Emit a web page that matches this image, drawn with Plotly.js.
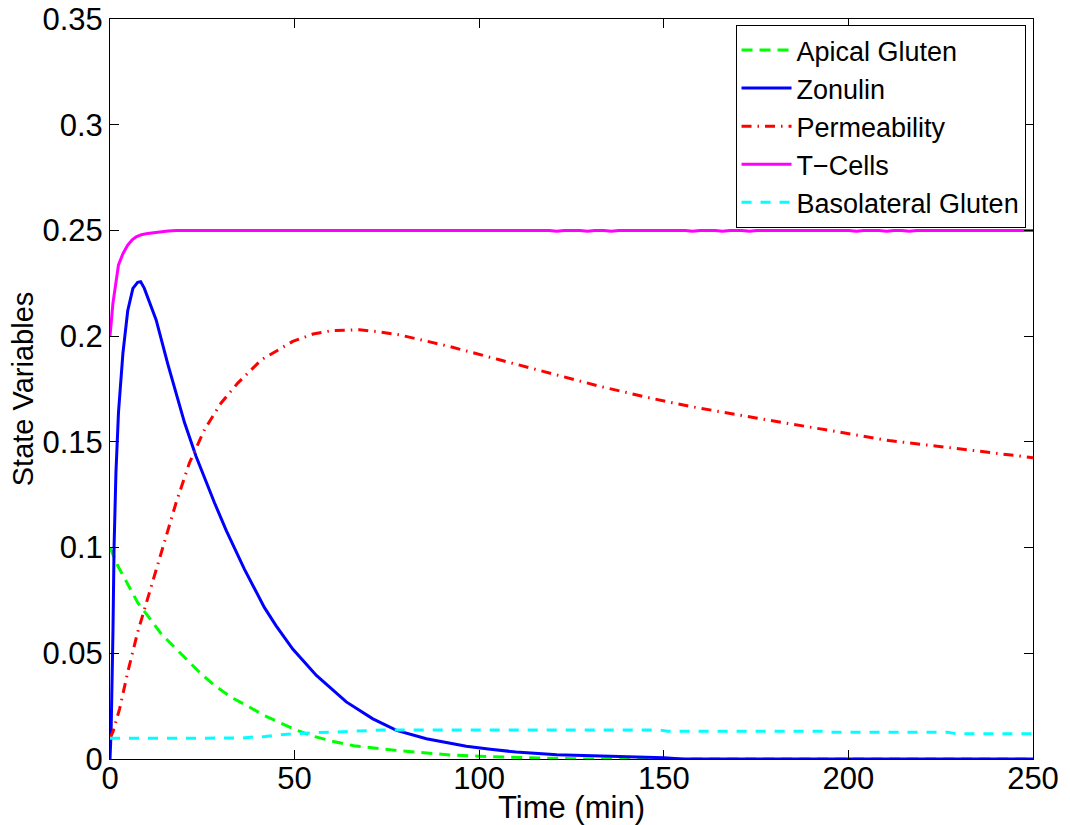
<!DOCTYPE html>
<html>
<head>
<meta charset="utf-8">
<script src="https://cdn.plot.ly/plotly-3.0.1.min.js"></script>
<style>html,body{margin:0;padding:0;background:#fff;}#chart{width:1070px;height:825px;}</style>
</head>
<body>
<div id="chart"></div>
<script>
// ---- data ----
const apicalT = [0, 2.1, 4.8, 7.5, 10.2, 13.9, 17.5, 21.1, 24.7, 28.3, 32.8, 37.3, 41.8, 45, 50, 55, 60, 66, 72, 78, 85, 92, 100, 110, 120, 130, 250];
const apicalY = [0.1, 0.0914, 0.0827, 0.074, 0.0678, 0.0591, 0.0528, 0.0466, 0.0402, 0.0348, 0.0292, 0.025, 0.0206, 0.018, 0.014, 0.0108, 0.0085, 0.0063, 0.005, 0.004, 0.003, 0.0019, 0.0013, 0.0007, 0.0003, 0, 0];

const zonulinT = [0, 0.3, 0.8, 1.1, 1.6, 2.3, 3.5, 4.8, 6.2, 7.5, 8.3, 9.3, 12.5, 15.7, 20.2, 23.3, 28.3, 31.5, 36.4, 41.8, 45, 49.5, 55.9, 64, 71.2, 77.6, 85.7, 96.5, 103, 110, 121, 128, 139, 150, 155, 250];
const zonulinY = [0, 0.013, 0.06, 0.1, 0.135, 0.164, 0.192, 0.212, 0.2226, 0.2255, 0.2258, 0.2226, 0.2077, 0.1865, 0.159, 0.1432, 0.1212, 0.108, 0.0898, 0.0717, 0.063, 0.052, 0.0395, 0.027, 0.019, 0.0135, 0.0096, 0.006, 0.0046, 0.0033, 0.002, 0.0017, 0.0012, 0.0006, 0, 0];

const permT = [0, 0.77, 2.6, 4.8, 7.5, 10.2, 12.9, 15, 17.9, 21.5, 25.6, 30.1, 34.6, 41, 49.5, 55, 60.3, 67.6, 72, 78.4, 92, 105.5, 119, 132.6, 146.1, 157, 175, 193, 211, 229.2, 250];
const permY = [0.01, 0.0127, 0.0237, 0.041, 0.06, 0.0756, 0.0914, 0.104, 0.1212, 0.14, 0.1558, 0.1684, 0.1778, 0.1888, 0.1975, 0.201, 0.2027, 0.203, 0.2022, 0.2006, 0.1951, 0.1888, 0.1825, 0.1763, 0.1708, 0.1668, 0.1613, 0.1558, 0.1506, 0.1469, 0.1425];

const tcellT = [0, 0.8, 2.3, 3.5, 4.8, 6, 7.1, 8.5, 10.2, 12.5, 15.7, 18, 119, 121, 123, 127.3, 129.3, 131.3, 133.8, 135.8, 137.8, 155.8, 157.8, 159.8, 163.9, 165.9, 167.9, 171.2, 173.2, 175.2, 200.2, 202.2, 204.2, 208.3, 210.3, 212.3, 214.5, 216.5, 218.5, 250];
const tcellY = [0.2, 0.2156, 0.2337, 0.239, 0.2431, 0.2455, 0.247, 0.248, 0.2486, 0.2492, 0.2497, 0.25, 0.25, 0.2496, 0.25, 0.25, 0.2496, 0.25, 0.25, 0.2496, 0.25, 0.25, 0.2496, 0.25, 0.25, 0.2496, 0.25, 0.25, 0.2496, 0.25, 0.25, 0.2496, 0.25, 0.25, 0.2496, 0.25, 0.25, 0.2496, 0.25, 0.25];

const basoT = [0, 36, 38, 42, 46, 50, 55, 60, 63, 67, 71, 74, 149, 151, 194, 196, 227, 229, 250];
const basoY = [0.0098, 0.0099, 0.0103, 0.0106, 0.0115, 0.012, 0.0124, 0.0127, 0.013, 0.0132, 0.0135, 0.0137, 0.0137, 0.0131, 0.0131, 0.0126, 0.0126, 0.012, 0.012];

const seriesNames = ['Apical Gluten', 'Zonulin', 'Permeability', 'T\u2212Cells', 'Basolateral Gluten'];
const seriesColors = ['#00ff00', '#0000ff', '#ff0000', '#ff00ff', '#00ffff'];

const xTicks = [0, 50, 100, 150, 200, 250];
const xTickText = ['0', '50', '100', '150', '200', '250'];
const yTicks = [0, 0.05, 0.1, 0.15, 0.2, 0.25, 0.3, 0.35];
const yTickText = ['0', '0.05', '0.1', '0.15', '0.2', '0.25', '0.3', '0.35'];

// ---- traces ----
const xs = [apicalT, zonulinT, permT, tcellT, basoT];
const ys = [apicalY, zonulinY, permY, tcellY, basoY];
const dashes = ['11px,7px', 'solid', '10px,6px,1.5px,6px', 'solid', '10px,9px'];

const traces = xs.map((x, i) => ({
  type: 'scatter', mode: 'lines', x: x, y: ys[i], name: seriesNames[i],
  line: {color: seriesColors[i], width: 3, dash: dashes[i], shape: 'linear'},
  cliponaxis: false,
  hoverinfo: 'skip'
}));

const baseFam = 'Liberation Sans, Arial, Helvetica, sans-serif';

const layout = {
  width: 1070, height: 825,
  margin: {l: 110, r: 37, t: 19, b: 66, pad: 0},
  paper_bgcolor: '#fff', plot_bgcolor: '#fff',
  showlegend: true,
  legend: {
    x: 0.9919, y: 0.992, xanchor: 'right', yanchor: 'top',
    bgcolor: '#fff', bordercolor: '#000', borderwidth: 1,
    font: {family: baseFam, size: 27, color: '#000'},
    itemwidth: 50, tracegroupgap: 0
  },
  xaxis: {
    range: [0, 250], tickvals: xTicks, ticktext: xTickText,
    ticks: 'inside', ticklen: 9, tickwidth: 1, tickcolor: '#000',
    showline: true, linecolor: '#000', linewidth: 1, mirror: 'ticks',
    showgrid: false, zeroline: false, ticklabeloverflow: 'allow',
    ticklabelstandoff: -8,
    tickfont: {family: baseFam, size: 31, color: '#000'},
    title: {text: 'Time (min)', font: {family: baseFam, size: 31, color: '#000'}, standoff: 5},
    automargin: false
  },
  yaxis: {
    range: [0, 0.35], tickvals: yTicks, ticktext: yTickText,
    ticks: 'inside', ticklen: 9, tickwidth: 1, tickcolor: '#000',
    showline: true, linecolor: '#000', linewidth: 1, mirror: 'ticks',
    showgrid: false, zeroline: false, ticklabeloverflow: 'allow',
    tickfont: {family: baseFam, size: 31, color: '#000'},
    title: {text: 'State Variables', font: {family: baseFam, size: 29, color: '#000'}, standoff: 0},
    automargin: false
  }
};

Plotly.newPlot('chart', traces, layout, {staticPlot: true, displayModeBar: false});
</script>
</body>
</html>
